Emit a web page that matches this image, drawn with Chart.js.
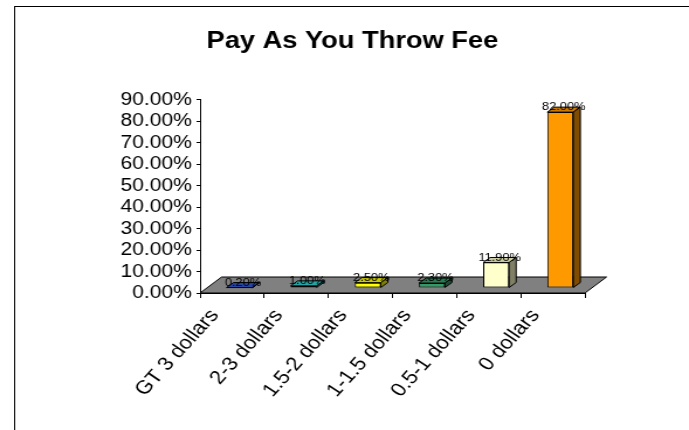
<!DOCTYPE html>
<html>
<head>
<meta charset="utf-8">
<title>Pay As You Throw Fee</title>
<script src="https://cdn.jsdelivr.net/npm/chart.js@4.4.1/dist/chart.umd.min.js"></script>
<style>
  html, body { margin: 0; padding: 0; background: #fff; }
</style>
</head>
<body>
<!-- the original picture is stretched sideways, so the canvas is drawn narrow and widened by css -->
<canvas id="feeChart" width="589" height="430" style="width:689px;height:430px;"></canvas>
<script>
const categories = ["GT 3 dollars", "2-3 dollars", "1.5-2 dollars", "1-1.5 dollars", "0.5-1 dollars", "0 dollars"];
const shares = [0.2, 1.0, 2.5, 2.3, 11.9, 82.0];
const barColors = ["#3058CC", "#33CCCC", "#FFFF00", "#339966", "#FFFFCC", "#FF9900"];
const yMax = 90;
const yStep = 10;

// fake 3d depth
const FLOOR_DX = 18.4, FLOOR_DY = 16;
const SHIFT_X = 6.3, SHIFT_Y = -5;
const DEPTH_X = 6, DEPTH_Y = 5;

function shade(hex, f) {
    const n = parseInt(hex.slice(1), 16);
    const r = Math.round(((n >> 16) & 255) * f);
    const g = Math.round(((n >> 8) & 255) * f);
    const b = Math.round((n & 255) * f);
    return `rgb(${r},${g},${b})`;
}

function poly(ctx, pts, fill) {
    ctx.beginPath();
    ctx.moveTo(pts[0][0], pts[0][1]);
    for (let i = 1; i < pts.length; i++) ctx.lineTo(pts[i][0], pts[i][1]);
    ctx.closePath();
    ctx.fillStyle = fill;
    ctx.fill();
    ctx.stroke();
}

const bar3d = {
    id: 'bar3d',
    beforeDraw(chart) {
        const ctx = chart.ctx;
        ctx.save();
        ctx.fillStyle = '#fff';
        ctx.fillRect(0, 0, chart.width, chart.height);
        ctx.strokeStyle = '#000';
        ctx.lineWidth = 1;
        ctx.strokeRect(12.5, 6.5, chart.width + 20, chart.height + 20);
        ctx.restore();
    },
    beforeDatasetsDraw(chart) {
        const ctx = chart.ctx;
        const a = chart.chartArea;
        ctx.save();
        ctx.strokeStyle = '#000';
        ctx.lineWidth = 1;
        poly(ctx, [
            [a.left, a.bottom], [a.right, a.bottom],
            [a.right + FLOOR_DX, a.bottom - FLOOR_DY], [a.left + FLOOR_DX, a.bottom - FLOOR_DY]
        ], '#808080');
        ctx.restore();
        ctx.save();
        ctx.translate(SHIFT_X, SHIFT_Y);
    },
    afterDatasetsDraw(chart) {
        const ctx = chart.ctx;
        const meta = chart.getDatasetMeta(0);
        ctx.strokeStyle = '#000';
        ctx.lineWidth = 1;
        meta.data.forEach((bar, i) => {
            const l = bar.x - bar.width / 2, r = bar.x + bar.width / 2;
            const t = bar.y, b = bar.base;
            const c = barColors[i];
            poly(ctx, [[l, t], [r, t], [r + DEPTH_X, t - DEPTH_Y], [l + DEPTH_X, t - DEPTH_Y]], shade(c, 0.8));
            poly(ctx, [[r, t], [r + DEPTH_X, t - DEPTH_Y], [r + DEPTH_X, b - DEPTH_Y], [r, b]], shade(c, 0.5));
            ctx.fillStyle = '#000';
            ctx.font = '11px Arial, "Liberation Sans", sans-serif';
            ctx.textAlign = 'center';
            ctx.textBaseline = 'middle';
            ctx.fillText(shares[i].toFixed(2) + '%', bar.x + DEPTH_X / 2, t - 5);
        });
        ctx.restore();
    }
};

Chart.defaults.font.family = 'Arial, "Liberation Sans", sans-serif';
Chart.defaults.color = '#000';

new Chart(document.getElementById('feeChart'), {
    type: 'bar',
    data: {
        labels: categories,
        datasets: [{
            data: shares,
            backgroundColor: barColors,
            borderColor: '#000',
            borderWidth: 1,
            borderSkipped: false,
            barPercentage: 0.405,
            categoryPercentage: 1
        }]
    },
    options: {
        responsive: false,
        devicePixelRatio: 1,
        animation: false,
        layout: { padding: { left: 102.5, right: 88.9, top: 0, bottom: 17 } },
        plugins: {
            legend: { display: false },
            tooltip: { enabled: false },
            title: {
                display: true,
                text: 'Pay As You Throw Fee',
                color: '#000',
                font: { size: 23.3, weight: 'bold' },
                padding: { top: 27.5, bottom: 44.5 }
            }
        },
        scales: {
            x: {
                afterFit(s) { s.height = 120; },
                grid: { drawOnChartArea: false, tickLength: 5, color: '#000', offset: true },
                border: { color: '#000' },
                ticks: {
                    font: { size: 19 },
                    color: '#000',
                    minRotation: 52,
                    maxRotation: 52,
                    autoSkip: false,
                    padding: 7,
                    labelOffset: -15
                }
            },
            y: {
                min: 0,
                max: yMax,
                afterFit(s) { s.width = 68.5; },
                grid: { drawOnChartArea: false, tickLength: 3, color: '#000' },
                border: { color: '#000' },
                ticks: {
                    stepSize: yStep,
                    autoSkip: false,
                    font: { size: 18 },
                    color: '#000',
                    padding: 4,
                    callback: v => v.toFixed(2) + '%'
                }
            }
        }
    },
    plugins: [bar3d]
});
</script>
</body>
</html>
